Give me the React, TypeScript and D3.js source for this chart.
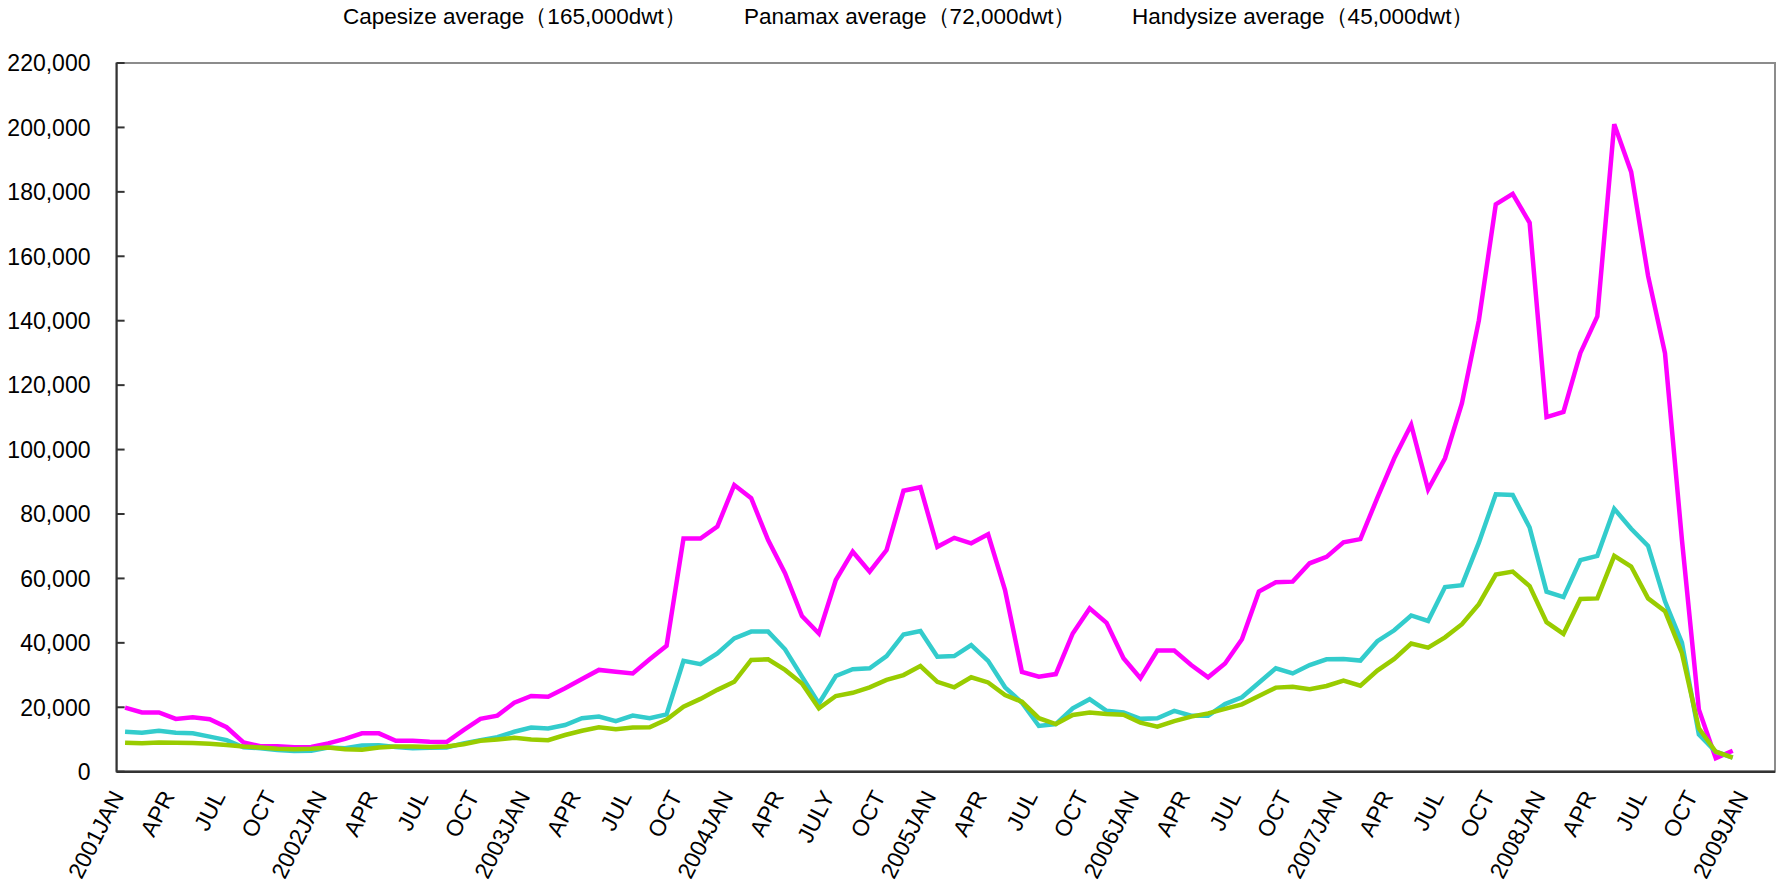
import React from "react";
import * as d3 from "d3";

const W = 1778;
const H = 893;

const seriesNames = [
  "Capesize average（165,000dwt）",
  "Panamax average（72,000dwt）",
  "Handysize average（45,000dwt）",
];
const seriesColors = ["#FF00FF", "#33CCCC", "#99CC00"];

const years = [2001, 2002, 2003, 2004, 2005, 2006, 2007, 2008, 2009];
const monthNames = ["JAN", "FEB", "MAR", "APR", "MAY", "JUN", "JUL", "AUG", "SEP", "OCT", "NOV", "DEC"];
// axis categories: 2001JAN .. 2009FEB
const categories: string[] = [];
years.forEach((y) => monthNames.forEach((m) => categories.push(`${y}${m}`)));
const axisCategories = categories.slice(0, 98);

const tickLabels = [
  "2001JAN", "APR", "JUL", "OCT",
  "2002JAN", "APR", "JUL", "OCT",
  "2003JAN", "APR", "JUL", "OCT",
  "2004JAN", "APR", "JULY", "OCT",
  "2005JAN", "APR", "JUL", "OCT",
  "2006JAN", "APR", "JUL", "OCT",
  "2007JAN", "APR", "JUL", "OCT",
  "2008JAN", "APR", "JUL", "OCT",
  "2009JAN",
];

const capesize = [
  19900, 18400, 18400, 16400, 16900, 16300, 13800, 9100, 7900, 7900, 7600, 7700,
  8800, 10200, 11900, 11900, 9600, 9600, 9300, 9200, 12900, 16400, 17400, 21400,
  23500, 23300, 25900, 28800, 31600, 31000, 30500, 34900, 39100, 72400, 72400, 76100,
  89000, 84900, 71900, 61600, 48300, 42900, 59500, 68300, 62100, 68800, 87200, 88300,
  69800, 72600, 70900, 73700, 56400, 31000, 29500, 30300, 42900, 50700, 46200, 35200,
  29000, 37600, 37600, 33100, 29300, 33600, 41100, 55900, 58800, 59000, 64700, 66700,
  71200, 72200, 85000, 97300, 107700, 87600, 97300, 114400, 140100, 176100, 179400, 170400,
  110100, 111700, 130000, 141300, 201000, 186200, 153900, 129900, 72000, 19300, 4200, 6500,
];

const panamax = [
  12400, 12100, 12700, 12100, 11900, 10900, 9800, 7600, 7300, 6700, 6400, 6500,
  7500, 7300, 8100, 8200, 7700, 7300, 7400, 7500, 8800, 9800, 10700, 12400,
  13700, 13400, 14500, 16600, 17100, 15700, 17400, 16600, 17800, 34400, 33400, 36700,
  41400, 43500, 43500, 38000, 29500, 21200, 29700, 31800, 32100, 35900, 42600, 43700,
  35700, 35900, 39300, 34400, 26200, 21400, 14200, 14800, 19700, 22500, 18900, 18400,
  16400, 16600, 18900, 17400, 17400, 21000, 23100, 27600, 32100, 30500, 33100, 34900,
  35000, 34500, 40500, 43900, 48500, 46800, 57300, 57900, 71100, 86100, 85900, 75800,
  55900, 54200, 65700, 67000, 81600, 75400, 70100, 52900, 40100, 11600, 6200, 4400,
];

const handysize = [
  9000, 8800, 9100, 9000, 8900, 8700, 8300, 7800, 7500, 7100, 7000, 7100,
  7500, 7000, 6800, 7500, 7800, 7800, 7700, 7800, 8500, 9600, 10000, 10500,
  10000, 9800, 11400, 12700, 13800, 13200, 13700, 13800, 16200, 20200, 22600, 25400,
  27900, 34700, 34900, 31600, 27400, 19700, 23500, 24500, 26200, 28500, 30000, 32800,
  27900, 26200, 29300, 27700, 23800, 21700, 16600, 14800, 17600, 18400, 17900, 17700,
  15200, 14000, 15700, 17100, 18100, 19500, 20900, 23500, 26100, 26400, 25600, 26600,
  28300, 26700, 31400, 35000, 39800, 38500, 41700, 45800, 52000, 61200, 62100, 57600,
  46400, 42800, 53600, 53800, 67000, 63700, 53800, 49800, 36800, 13500, 6200, 4400,
];

const series = [capesize, panamax, handysize];
const yTicks = [0, 20000, 40000, 60000, 80000, 100000, 120000, 140000, 160000, 180000, 200000, 220000];
const legendX = [343, 744, 1132];

const plot = { left: 116.6, right: 1775, top: 63, bottom: 771.7 };
const FONT = "'Liberation Sans', Arial, Helvetica, sans-serif";

export default function App() {
  const x = d3.scaleBand<string>().domain(axisCategories).range([plot.left, plot.right]).padding(0);
  const y = d3.scaleLinear().domain([0, 220000]).range([plot.bottom, plot.top]);
  const cx = (i: number) => (x(axisCategories[i]) as number) + x.bandwidth() / 2;
  const line = d3
    .line<number>()
    .x((_, i) => cx(i))
    .y((d) => y(d));
  const fmt = d3.format(",");
  const angle = -63;

  return (
    <svg
      width={W}
      height={H}
      viewBox={`0 0 ${W} ${H}`}
      style={{ position: "absolute", left: 0, top: 0, background: "#fff" }}
      fontFamily={FONT}
    >
      <rect x={0} y={0} width={W} height={H} fill="#fff" />
      {/* legend */}
      {seriesNames.map((n, k) => (
        <text key={n} x={legendX[k]} y={24} fontSize={22.5} fill="#000">
          {n}
        </text>
      ))}
      {/* frame */}
      <rect
        x={plot.left}
        y={plot.top}
        width={plot.right - plot.left}
        height={plot.bottom - plot.top}
        fill="none"
        stroke="#8c8c8c"
        strokeWidth={2}
      />
      <line x1={plot.left} x2={plot.left} y1={plot.top} y2={plot.bottom} stroke="#333" strokeWidth={2} />
      <line x1={plot.left} x2={plot.right} y1={plot.bottom} y2={plot.bottom} stroke="#333" strokeWidth={2.5} />
      {/* y ticks */}
      {yTicks.map((t) => (
        <g key={t}>
          <line x1={plot.left} x2={plot.left + 8} y1={y(t)} y2={y(t)} stroke="#333" strokeWidth={2} />
          <text x={90.5} y={y(t)} dy="0.36em" textAnchor="end" fontSize={23} fill="#000">
            {fmt(t)}
          </text>
        </g>
      ))}
      {/* x labels */}
      {tickLabels.map((lab, j) => {
        const i = j * 3;
        const px = cx(i) - 0.5;
        const py = 796;
        return (
          <text
            key={j}
            transform={`translate(${px},${py}) rotate(${angle})`}
            textAnchor="end"
            fontSize={23}
            fill="#000"
          >
            {lab}
          </text>
        );
      })}
      {/* lines */}
      {series.map((s, k) => (
        <path
          key={k}
          d={line(s) as string}
          fill="none"
          stroke={seriesColors[k]}
          strokeWidth={4.5}
          strokeLinejoin="miter"
        />
      ))}
    </svg>
  );
}
